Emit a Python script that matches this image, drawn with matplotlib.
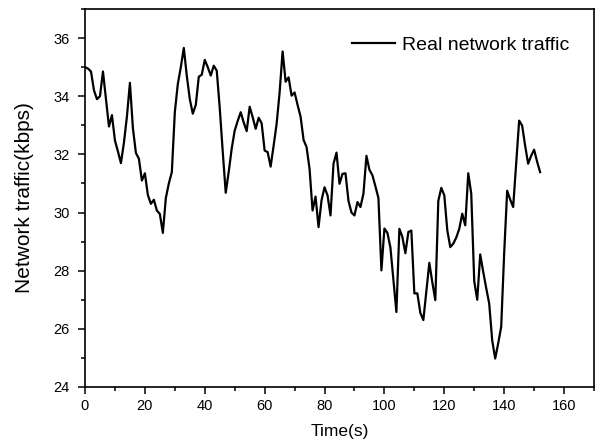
import numpy as np
import matplotlib
matplotlib.use("Agg")
import matplotlib.pyplot as plt
from matplotlib.ticker import MultipleLocator

plt.rcParams['font.family'] = ['Liberation Sans', 'DejaVu Sans']

time_s = np.arange(0, 153)
traffic = [35.0, 34.95, 34.85, 34.2, 33.9, 34.0, 34.85, 33.9, 32.96, 33.35,
           32.48, 32.1, 31.7, 32.4, 33.3, 34.46, 32.9, 32.05, 31.85, 31.1,
           31.35, 30.6, 30.3, 30.44, 30.07, 29.95, 29.3, 30.5, 31.0, 31.39,
           33.45, 34.42, 35.0, 35.66, 34.7, 33.9, 33.4, 33.7, 34.67, 34.74,
           35.25, 35.0, 34.71, 35.05, 34.88, 33.6, 32.1, 30.68, 31.4, 32.2,
           32.82, 33.15, 33.45, 33.1, 32.8, 33.64, 33.28, 32.88, 33.26, 33.07,
           32.13, 32.08, 31.58, 32.3, 33.05, 34.13, 35.54, 34.5, 34.65, 34.02,
           34.13, 33.7, 33.3, 32.5, 32.25, 31.5, 30.07, 30.55, 29.5, 30.42,
           30.87, 30.59, 29.9, 31.68, 32.06, 30.99, 31.33, 31.35, 30.4, 30.0,
           29.9, 30.36, 30.19, 30.65, 31.95, 31.47, 31.28, 30.9, 30.5, 28.01,
           29.45, 29.3, 28.8, 27.7, 26.58, 29.44, 29.16, 28.6, 29.33, 29.38,
           27.22, 27.22, 26.55, 26.3, 27.3, 28.27, 27.6, 26.99, 30.4, 30.85,
           30.59, 29.39, 28.81, 28.93, 29.14, 29.44, 29.96, 29.56, 31.35, 30.65,
           27.64, 27.0, 28.56, 27.96, 27.4, 26.87, 25.6, 24.98, 25.5, 26.07,
           28.6, 30.75, 30.45, 30.19, 31.7, 33.16, 32.99, 32.3, 31.68, 31.95,
           32.16, 31.75, 31.39]

fig = plt.figure(figsize=(5.97, 4.43), dpi=100)
ax = fig.add_axes([85/597, 1 - 387/443, 509/597, 378/443])

ax.plot(time_s, traffic, color='black', linewidth=1.6, label='Real network traffic')

ax.set_xlim(0, 170)
ax.set_ylim(24, 37)
ax.xaxis.set_major_locator(MultipleLocator(20))
ax.xaxis.set_minor_locator(MultipleLocator(10))
ax.yaxis.set_major_locator(MultipleLocator(2))
ax.yaxis.set_minor_locator(MultipleLocator(1))
ax.tick_params(which='major', direction='out', length=5, width=1.1, labelsize=10.5)
ax.tick_params(axis='y', which='major', pad=6)
ax.tick_params(which='minor', direction='out', length=3, width=1.1)
for sp in ax.spines.values():
    sp.set_linewidth(1.2)

ax.set_xlabel('Time(s)', fontsize=12.5, labelpad=8)
ax.set_ylabel('Network traffic(kbps)', fontsize=15, labelpad=14)

ax.legend(loc='center left', bbox_to_anchor=((352 - 85) / 509, (387 - 45) / 378),
          frameon=False, fontsize=14, handlelength=2.2, handletextpad=0.36,
          borderpad=0, borderaxespad=0)

fig.savefig('out.png', dpi=100)
